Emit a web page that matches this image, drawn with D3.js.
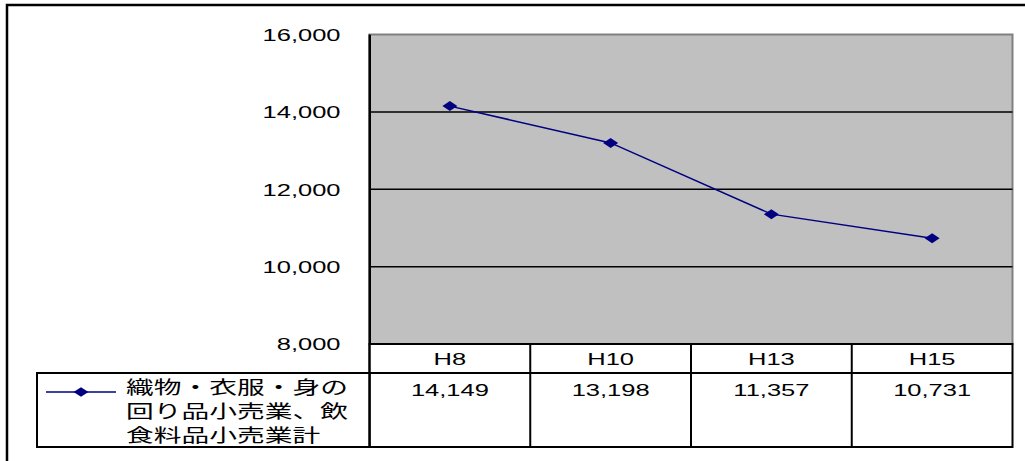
<!DOCTYPE html>
<html>
<head>
<meta charset="utf-8">
<script src="https://cdn.jsdelivr.net/npm/d3@7"></script>
<style>
  html, body { margin: 0; padding: 0; background: #fff; }
  svg { display: block; }
  .lat { font-family: "Liberation Sans", Arial, sans-serif; font-size: 17px; fill: #000; }
  .jp { font-family: "Noto Sans CJK JP", sans-serif; font-size: 18.5px; fill: #000; }
</style>
</head>
<body>
<svg id="chart" width="1025" height="461"></svg>
<script>
// ---- data ----
const categories = ["H8", "H10", "H13", "H15"];
const values = [14149, 13198, 11357, 10731];
const yTicks = [8000, 10000, 12000, 14000, 16000];
const seriesNameLines = ["織物・衣服・身の", "回り品小売業、飲", "食料品小売業計"];

const svg = d3.select("#chart");
const SX = 1.5; // horizontal stretch of the original rendering
const fmt = d3.format(",");

const plot = { left: 369.5, right: 1012.5, top: 34.5, bottom: 344 };
const table = { headerBottom: 373, bottom: 447, legendLeft: 37 };

const y = d3.scaleLinear().domain([8000, 16000]).range([plot.bottom, plot.top]);
const x = d3.scaleBand().domain(categories).range([plot.left, plot.right]).padding(0);

// outer frame (cut off right/bottom)
svg.append("rect").attr("x", 7).attr("y", 5).attr("width", 1040).attr("height", 480)
  .attr("fill", "none").attr("stroke", "#000").attr("stroke-width", 2.5);

// plot background
svg.append("rect")
  .attr("x", plot.left).attr("y", plot.top)
  .attr("width", plot.right - plot.left).attr("height", plot.bottom - plot.top)
  .attr("fill", "#c0c0c0").attr("stroke", "#808080").attr("stroke-width", 2);

// gridlines
svg.append("g").selectAll("line").data(yTicks.filter(d => d > 8000 && d < 16000)).join("line")
  .attr("x1", plot.left).attr("x2", plot.right)
  .attr("y1", d => y(d)).attr("y2", d => y(d))
  .attr("stroke", "#000").attr("stroke-width", 1.5);

// y axis
const yAxis = svg.append("g").attr("transform", `translate(${plot.left},0)`)
  .call(d3.axisLeft(y).tickValues(yTicks).tickSize(0).tickFormat(fmt));
yAxis.select(".domain").attr("stroke", "#000").attr("stroke-width", 2);
yAxis.selectAll("text")
  .attr("class", "lat")
  .attr("x", 0).attr("dy", null)
  .attr("dominant-baseline", "central")
  .attr("text-anchor", "end")
  .style("font-size", "17px")
  .style("font-family", '"Liberation Sans", Arial, sans-serif')
  .attr("transform", `translate(-29,0) scale(${SX},1)`);

// data table
const tg = svg.append("g");
// header row + data row boxes
tg.append("rect").attr("x", plot.left).attr("y", plot.bottom)
  .attr("width", plot.right - plot.left).attr("height", table.bottom - plot.bottom)
  .attr("fill", "#fff").attr("stroke", "#000").attr("stroke-width", 2);
tg.append("line").attr("x1", table.legendLeft).attr("x2", plot.right)
  .attr("y1", table.headerBottom).attr("y2", table.headerBottom)
  .attr("stroke", "#000").attr("stroke-width", 2);
// legend cell
tg.append("rect").attr("x", table.legendLeft).attr("y", table.headerBottom)
  .attr("width", plot.left - table.legendLeft).attr("height", table.bottom - table.headerBottom)
  .attr("fill", "#fff").attr("stroke", "#000").attr("stroke-width", 2);
// column separators
tg.selectAll("line.sep").data(categories.slice(1)).join("line").attr("class", "sep")
  .attr("x1", d => x(d)).attr("x2", d => x(d))
  .attr("y1", plot.bottom).attr("y2", table.bottom)
  .attr("stroke", "#000").attr("stroke-width", 2);
// left axis line through the table
tg.append("line").attr("x1", plot.left).attr("x2", plot.left)
  .attr("y1", plot.top).attr("y2", table.bottom)
  .attr("stroke", "#000").attr("stroke-width", 2);

// header labels
tg.selectAll("text.cat").data(categories).join("text").attr("class", "lat cat")
  .attr("text-anchor", "middle")
  .attr("transform", d => `translate(${x(d) + x.bandwidth() / 2},365) scale(${SX},1)`)
  .text(d => d);
// value labels
tg.selectAll("text.val").data(values).join("text").attr("class", "lat val")
  .attr("text-anchor", "middle")
  .attr("transform", (d, i) => `translate(${x(categories[i]) + x.bandwidth() / 2},395.5) scale(${SX},1)`)
  .text(d => fmt(d));

// legend key
const diamond = (cx, cy, hw, hh) => `M${cx},${cy - hh}L${cx + hw},${cy}L${cx},${cy + hh}L${cx - hw},${cy}Z`;
tg.append("line").attr("x1", 46).attr("x2", 116).attr("y1", 392).attr("y2", 392)
  .attr("stroke", "#000080").attr("stroke-width", 1.5);
tg.append("path").attr("d", diamond(81, 392, 7.5, 4.8)).attr("fill", "#000080");
// legend text
tg.selectAll("text.leg").data(seriesNameLines).join("text").attr("class", "jp leg")
  .attr("transform", (d, i) => `translate(126,${394 + i * 24}) scale(${SX},1)`)
  .text(d => d);

// series line
const pts = values.map((v, i) => [x(categories[i]) + x.bandwidth() / 2, y(v)]);
svg.append("path").datum(pts)
  .attr("d", d3.line())
  .attr("fill", "none").attr("stroke", "#000080").attr("stroke-width", 1.5);
svg.append("g").selectAll("path").data(pts).join("path")
  .attr("d", d => diamond(d[0], d[1], 7.5, 5))
  .attr("fill", "#000080");
</script>
</body>
</html>
